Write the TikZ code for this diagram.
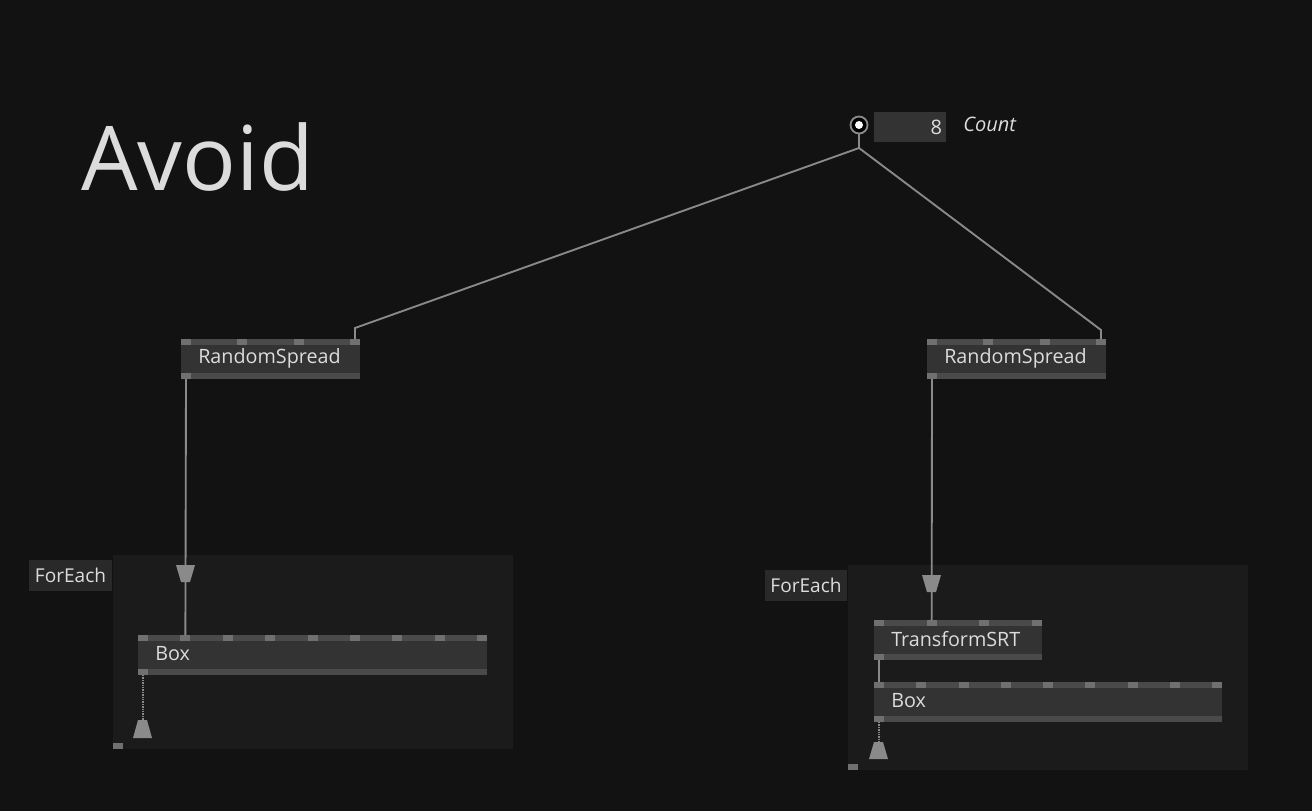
\documentclass[tikz,border=0pt]{standalone}
\usepackage{fontspec}
\setmainfont{Open Sans}
\definecolor{bg}{HTML}{121212}
\definecolor{region}{HTML}{1B1B1B}
\definecolor{body}{HTML}{333333}
\definecolor{bar}{HTML}{4A4A4A}
\definecolor{pincol}{HTML}{707070}
\definecolor{link}{HTML}{8A8A8A}
\definecolor{txt}{HTML}{DCDCDC}
\tikzset{
  link/.style={draw=link,line width=1.4pt},
  dotlink/.style={draw=link,line width=1.4pt,dash pattern=on 1pt off 0.8pt},
  pincap/.style={fill=link},
  label/.style={text=txt,font=\fontsize{14.8}{16}\selectfont,anchor=west,inner sep=0pt},
}
% node: name, x, y, width, number of pins, label
\newcommand\vvnode[6]{%
  \fill[body] (#2,#3) rectangle ++(#4,40);
  \fill[bar] (#2,#3) rectangle ++(#4,6);
  \fill[bar] (#2,#3+34) rectangle ++(#4,6);
  \foreach \i in {0,...,\numexpr#5-1\relax}{
    \pgfmathsetmacro\px{#2+\i*(#4-10)/(#5-1)}
    \fill[pincol] (\px,#3) rectangle ++(10,6);
    \coordinate (#1-in\i) at (\px+5,#3);
  }
  \fill[pincol] (#2,#3+34) rectangle ++(10,6);
  \coordinate (#1-out) at (#2+5,#3+40);
  \node[label] (#1) at (#2+17,#3+19) {#6};
}
\begin{document}
\begin{tikzpicture}[x=0.75pt,y=-0.75pt]
    \fill[bg] (0,0) rectangle (1312,811);
    % Title
    \node[text=txt,font=\fontsize{67}{75}\selectfont,anchor=base west,inner sep=0pt] (title) at (81,190) {Avoid};
    % Regions
    \fill[region] (113,555) rectangle (513,749);
    \fill[pincol] (113,743) rectangle ++(10,6);
    \fill[region] (848,565) rectangle (1248,770);
    \fill[pincol] (848,764) rectangle ++(10,6);
    \node[fill=body!80!black,text=txt,font=\fontsize{14.3}{15}\selectfont,minimum width=62.25pt,minimum height=23.25pt,inner sep=0pt] (fe1) at (70.5,575.5) {ForEach};
    \node[fill=body!80!black,text=txt,font=\fontsize{14.3}{15}\selectfont,minimum width=61.5pt,minimum height=23.25pt,inner sep=0pt] (fe2) at (806,585.5) {ForEach};
    % IOBox
    \fill[link] (859,125) circle (8.5);
    \fill[white] (859,125) circle (4);
    \coordinate (count-out) at (859,133);
    \coordinate (count-knee) at (859,148);
    \node[fill=body,text=txt,font=\fontsize{15}{16}\selectfont,minimum width=54pt,minimum height=22.5pt,inner sep=3pt,align=right,text width=48pt] (count) at (910,127) {8};
    \node[text=txt,font=\itshape\fontsize{15}{16}\selectfont,anchor=west,inner sep=0pt] (countlabel) at (963,124) {Count};
    % Nodes
    \vvnode{rs1}{181}{339}{179}{4}{RandomSpread}
    \vvnode{rs2}{927}{339}{179}{4}{RandomSpread}
    \vvnode{box1}{138}{635}{349}{9}{Box}
    \vvnode{srt}{874}{620}{168}{4}{TransformSRT}
    \vvnode{box2}{874}{682}{348}{9}{Box}
    % Links
    \draw[link] (count-out) -- (count-knee) -- (355,328) -- (rs1-in3);
    \draw[link] (count-knee) -- (1101,330) -- (rs2-in3);
    \draw[link] (rs1-out) -- (box1-in1);
    \draw[link] (rs2-out) -- (srt-in1);
    \draw[link] (srt-out) -- (box2-in0);
    \draw[dotlink] (box1-out) -- (143,720);
    \draw[dotlink] (box2-out) -- (879,742);
    % Pins into and out of the regions
    \fill[pincap] (176,565) -- (195,565) -- (190,582) -- (181,582) -- cycle;
    \fill[pincap] (922,575) -- (941,575) -- (936,592) -- (927,592) -- cycle;
    \fill[pincap] (138,720) -- (147,720) -- (152,738) -- (133,738) -- cycle;
    \fill[pincap] (874,742) -- (883,742) -- (888,759) -- (869,759) -- cycle;
\end{tikzpicture}
\end{document}
